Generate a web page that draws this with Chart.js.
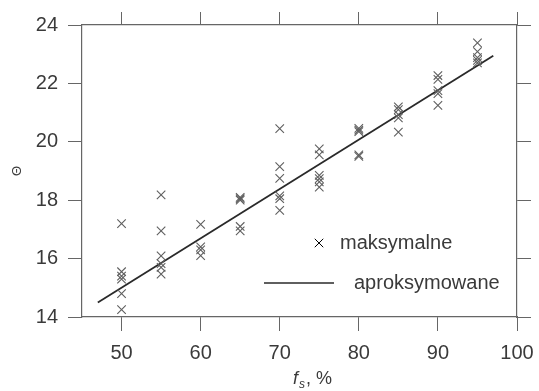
<!DOCTYPE html>
<html>
<head>
<meta charset="utf-8">
<script src="https://cdn.jsdelivr.net/npm/chart.js@4.4.0/dist/chart.umd.min.js"></script>
<style>
  body { margin: 0; background: #fff; }
  #wrap { width: 539px; height: 391px; }
</style>
</head>
<body>
<div id="wrap"><canvas id="chart" width="539" height="391"></canvas></div>
<script>
// f_s levels and the measured maxima at each level
const fsLevels = [50, 55, 60, 65, 70, 75, 80, 85, 90, 95];
const maxAt50 = [17.2, 15.55, 15.4, 15.3, 14.8, 14.25];
const maxAt55 = [18.18, 16.95, 16.09, 15.83, 15.7, 15.47];
const maxAt60 = [17.17, 16.4, 16.3, 16.1];
const maxAt65 = [18.1, 18.05, 18.0, 17.1, 16.95];
const maxAt70 = [20.45, 19.15, 18.75, 18.15, 18.05, 17.65];
const maxAt75 = [19.76, 19.55, 18.85, 18.74, 18.63, 18.45];
const maxAt80 = [20.46, 20.4, 20.35, 19.55, 19.5];
const maxAt85 = [21.2, 21.1, 20.93, 20.82, 20.33];
const maxAt90 = [22.27, 22.14, 21.75, 21.65, 21.25];
const maxAt95 = [23.39, 23.09, 22.88, 22.79, 22.7];
const maxByLevel = [maxAt50, maxAt55, maxAt60, maxAt65, maxAt70, maxAt75, maxAt80, maxAt85, maxAt90, maxAt95];

// fitted (approximated) line end points
const fitX = [47, 97];
const fitY = [14.5, 22.95];

// tick labels
const xTicks = [50, 60, 70, 80, 90, 100];
const yTicks = [14, 16, 18, 20, 22, 24];

const axisColor = '#666';
const textColor = '#3a3a3a';
const markColor = '#5f5f5f';
const fontFamily = '"Liberation Sans", Arial, sans-serif';

const maxPoints = [];
fsLevels.forEach((fs, i) => {
  maxByLevel[i].forEach(v => maxPoints.push({ x: fs, y: v }));
});
const fitPoints = fitX.map((x, i) => ({ x: x, y: fitY[i] }));

const tickList = arr => scale => { scale.ticks = arr.map(v => ({ value: v })); };
// fixed axis box sizes so the plot area sits where it does in the picture
const fixHeight = h => s => { s.height = h; s.paddingLeft = 0; s.paddingRight = 0; };
const fixWidth = w => s => { s.width = w; s.paddingTop = 0; s.paddingBottom = 0; };

// legend + x title drawn inside the plot
const extras = {
  id: 'extras',
  afterDraw(chart) {
    const ctx = chart.ctx;
    ctx.save();
    // legend
    Chart.helpers.drawPoint(ctx, { pointStyle: 'crossRot', radius: 6, borderWidth: 1.1, borderColor: markColor }, 319, 243);
    ctx.strokeStyle = '#2a2a2a';
    ctx.lineWidth = 1.6;
    ctx.beginPath();
    ctx.moveTo(264, 283);
    ctx.lineTo(334, 283);
    ctx.stroke();
    ctx.fillStyle = textColor;
    ctx.font = '20px ' + fontFamily;
    ctx.textBaseline = 'middle';
    ctx.textAlign = 'left';
    ctx.fillText('maksymalne', 340, 243);
    ctx.fillText('aproksymowane', 354, 283);
    // x title: f_s, %
    ctx.textBaseline = 'alphabetic';
    ctx.font = 'italic 18px ' + fontFamily;
    ctx.fillText('f', 293, 384);
    ctx.font = 'italic 12px ' + fontFamily;
    ctx.fillText('s', 299, 388);
    ctx.font = '18px ' + fontFamily;
    ctx.fillText(', %', 306, 384);
    ctx.restore();
  }
};

new Chart(document.getElementById('chart'), {
  type: 'scatter',
  data: {
    datasets: [
      {
        label: 'maksymalne',
        data: maxPoints,
        pointStyle: 'crossRot',
        pointRadius: 6,
        pointHoverRadius: 6,
        borderColor: markColor,
        borderWidth: 1.1,
        backgroundColor: 'transparent'
      },
      {
        label: 'aproksymowane',
        type: 'line',
        data: fitPoints,
        borderColor: '#2a2a2a',
        borderWidth: 1.8,
        pointRadius: 0,
        fill: false
      }
    ]
  },
  options: {
    responsive: false,
    animation: false,
    layout: { padding: 0 },
    plugins: { legend: { display: false }, tooltip: { enabled: false } },
    scales: {
      x: {
        type: 'linear', position: 'bottom', min: 45, max: 100,
        afterBuildTicks: tickList(xTicks),
        afterFit: fixHeight(74),
        grid: { drawOnChartArea: false, tickLength: 14, color: axisColor },
        border: { color: axisColor, width: 1.2 },
        ticks: { font: { family: fontFamily, size: 20 }, color: textColor, padding: 10, maxRotation: 0 }
      },
      x2: {
        type: 'linear', position: 'top', min: 45, max: 100,
        afterBuildTicks: tickList(xTicks),
        afterFit: fixHeight(25),
        grid: { drawOnChartArea: false, tickLength: 13, color: axisColor },
        border: { color: axisColor, width: 1.2 },
        ticks: { display: false }
      },
      y: {
        type: 'linear', position: 'left', min: 14, max: 24,
        afterBuildTicks: tickList(yTicks),
        afterFit: fixWidth(82),
        grid: { drawOnChartArea: false, tickLength: 14, color: axisColor },
        border: { color: axisColor, width: 1.2 },
        ticks: { font: { family: fontFamily, size: 20 }, color: textColor, padding: 10 },
        title: { display: true, text: 'Θ', color: textColor, font: { family: fontFamily, size: 13 }, padding: { top: 10, bottom: 0 } }
      },
      y2: {
        type: 'linear', position: 'right', min: 14, max: 24,
        afterBuildTicks: tickList(yTicks),
        afterFit: fixWidth(22),
        grid: { drawOnChartArea: false, tickLength: 14, color: axisColor },
        border: { color: axisColor, width: 1.2 },
        ticks: { display: false }
      }
    }
  },
  plugins: [extras]
});
</script>
</body>
</html>
